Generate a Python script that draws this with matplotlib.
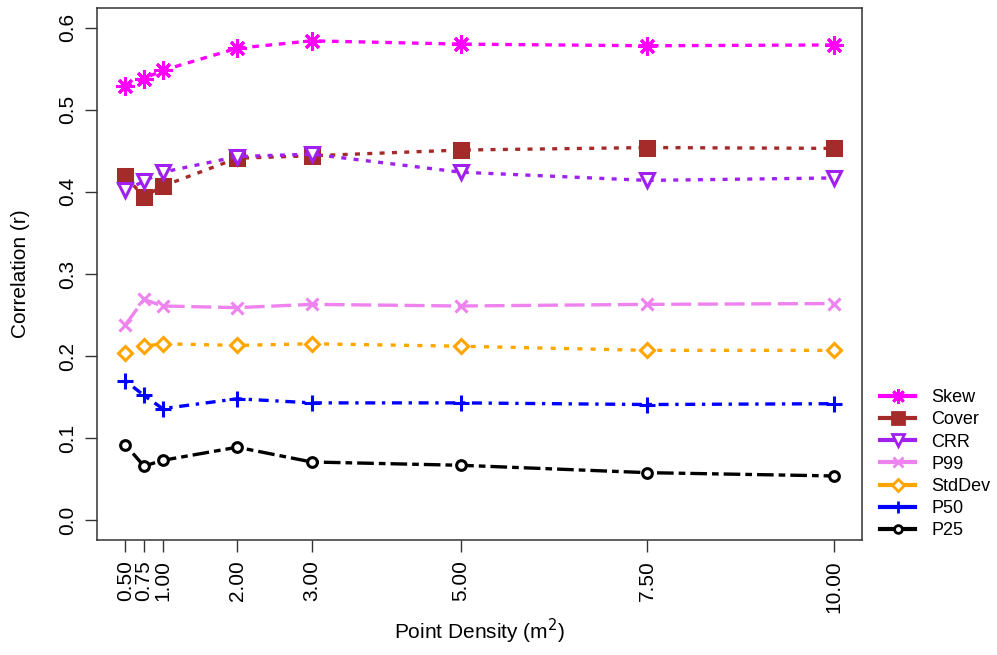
import matplotlib
matplotlib.use("Agg")
import matplotlib.pyplot as plt
from matplotlib.lines import Line2D

plt.rcParams['font.family'] = ['Liberation Sans', 'DejaVu Sans']

density = [0.5, 0.75, 1.0, 2.0, 3.0, 5.0, 7.5, 10.0]
tick_labels = ["0.50", "0.75", "1.00", "2.00", "3.00", "5.00", "7.50", "10.00"]

skew = [0.529, 0.538, 0.548, 0.575, 0.584, 0.580, 0.578, 0.579]
cover = [0.419, 0.394, 0.407, 0.441, 0.444, 0.451, 0.454, 0.453]
crr = [0.402, 0.413, 0.424, 0.443, 0.446, 0.424, 0.414, 0.417]
p99 = [0.238, 0.269, 0.261, 0.259, 0.263, 0.261, 0.263, 0.264]
stddev = [0.204, 0.212, 0.215, 0.213, 0.215, 0.212, 0.207, 0.207]
p50 = [0.170, 0.152, 0.136, 0.148, 0.143, 0.143, 0.141, 0.142]
p25 = [0.092, 0.066, 0.073, 0.089, 0.071, 0.067, 0.058, 0.054]

# name, values, colour, dash pattern, marker, marker size, filled
series = [
    ("Skew", skew, "#FF00FF", (0, (2, 2)), (8, 2, 0), 13, True),
    ("Cover", cover, "#A52A2A", (0, (1.5, 2.2)), "s", 10, True),
    ("CRR", crr, "#A020F0", (0, (1.5, 2.2)), "v", 10, False),
    ("P99", p99, "#EE82EE", (0, (6, 2)), "x", 9, True),
    ("StdDev", stddev, "#FFA500", (0, (1.5, 2.5)), "D", 7.5, False),
    ("P50", p50, "#0000FF", (0, (1, 2, 3, 2)), "+", 11, True),
    ("P25", p25, "#000000", (0, (2, 1.5, 5, 1.5)), "o", 7, False),
]

fig = plt.figure(figsize=(9.97, 6.55), dpi=100)
ax = fig.add_axes([0.0973, 0.1756, 0.7673, 0.8122])

handles = []
for name, vals, col, ls, mk, ms, filled in series:
    mfc = col if filled else "white"
    ax.plot(density, vals, color=col, linestyle=ls, linewidth=2.4,
            marker=mk, markersize=ms, markeredgewidth=2.2,
            markeredgecolor=col, markerfacecolor=mfc)
    handles.append(Line2D([0], [0], color=col, linestyle="-", linewidth=3,
                          marker=mk, markersize=ms * 0.8, markeredgewidth=2,
                          markeredgecolor=col, markerfacecolor=mfc))

ax.set_xlim(0.12, 10.38)
ax.set_ylim(-0.024, 0.624)
ax.set_xticks(density)
ax.set_xticklabels(tick_labels, rotation=90, fontsize=15)
ax.set_yticks([0.0, 0.1, 0.2, 0.3, 0.4, 0.5, 0.6])
ax.set_yticklabels(["0.0", "0.1", "0.2", "0.3", "0.4", "0.5", "0.6"],
                   rotation=90, va="center", fontsize=15)
ax.tick_params(axis="both", length=8.5, width=1, color="#333333", pad=6)
for s in ax.spines.values():
    s.set_linewidth(1.1)
    s.set_color("#333333")

ax.set_xlabel("Point Density (m$^2$)", fontsize=15, labelpad=3)
ax.set_ylabel("Correlation (r)", fontsize=15, labelpad=20)

fig.legend(handles, [s[0] for s in series], loc="upper left",
           bbox_to_anchor=(0.8826, 0.406), frameon=False, fontsize=13,
           handlelength=1.95, labelspacing=0.29, handletextpad=0.9,
           borderpad=0, borderaxespad=0)

fig.savefig("out.png", dpi=100)
